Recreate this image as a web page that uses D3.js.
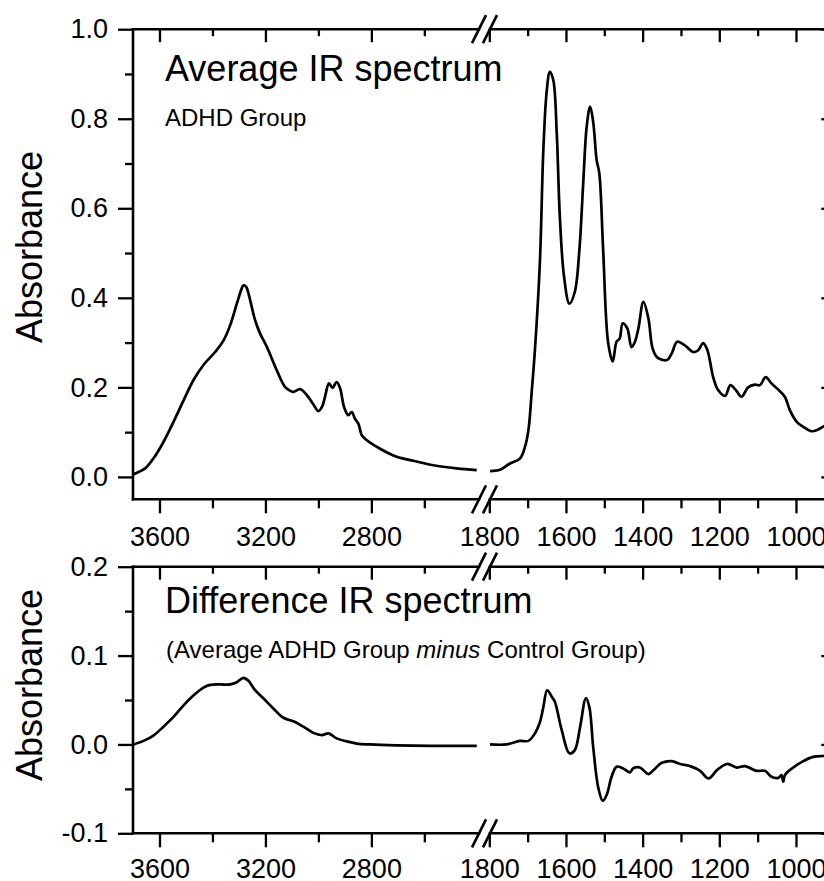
<!doctype html>
<html>
<head>
<meta charset="utf-8">
<script src="https://d3js.org/d3.v7.min.js"></script>
<style>
  body { margin: 0; background: #fff; }
  text { font-family: "Liberation Sans", Arial, sans-serif; fill: #000; }
</style>
</head>
<body>
<div id="viz"></div>
<script>
// wavenumber (cm-1), absorbance
var avgHigh = [[3698,0.006],[3675,0.012],[3654,0.019],[3623,0.041],[3585,0.078],[3547,0.123],[3509,0.171],[3472,0.216],[3434,0.250],[3390,0.279],[3358,0.305],[3333,0.339],[3308,0.387],[3290,0.420],[3283,0.428],[3272,0.424],[3264,0.410],[3239,0.350],[3220,0.320],[3195,0.291],[3157,0.238],[3126,0.201],[3105,0.192],[3094,0.190],[3069,0.196],[3044,0.183],[3020,0.163],[3000,0.147],[2985,0.158],[2975,0.179],[2960,0.209],[2947,0.199],[2931,0.212],[2918,0.198],[2903,0.156],[2887,0.138],[2874,0.145],[2862,0.130],[2849,0.119],[2836,0.093],[2817,0.082],[2767,0.063],[2704,0.045],[2641,0.036],[2566,0.026],[2478,0.019],[2402,0.015]];
var avgLow = [[1798,0.013],[1772,0.016],[1746,0.030],[1720,0.041],[1707,0.067],[1698,0.104],[1689,0.194],[1681,0.283],[1668,0.480],[1659,0.730],[1650,0.864],[1642,0.905],[1633,0.886],[1624,0.767],[1616,0.581],[1605,0.447],[1591,0.387],[1577,0.413],[1565,0.507],[1555,0.656],[1546,0.782],[1537,0.827],[1529,0.793],[1520,0.708],[1513,0.678],[1503,0.507],[1490,0.300],[1478,0.258],[1468,0.302],[1460,0.309],[1452,0.343],[1440,0.332],[1429,0.290],[1420,0.302],[1411,0.332],[1398,0.391],[1385,0.354],[1374,0.287],[1362,0.267],[1337,0.261],[1324,0.276],[1310,0.302],[1290,0.294],[1268,0.279],[1255,0.283],[1242,0.299],[1231,0.283],[1216,0.223],[1203,0.194],[1185,0.181],[1171,0.205],[1157,0.194],[1142,0.179],[1125,0.200],[1107,0.206],[1094,0.205],[1079,0.223],[1064,0.209],[1046,0.195],[1029,0.179],[1016,0.149],[998,0.123],[981,0.112],[959,0.102],[942,0.106],[927,0.113],[900,0.118]];
var diffHigh = [[3698,0.000],[3660,0.004],[3623,0.010],[3585,0.020],[3547,0.031],[3509,0.044],[3472,0.055],[3434,0.064],[3409,0.067],[3371,0.0675],[3333,0.0675],[3308,0.070],[3283,0.075],[3264,0.0716],[3239,0.061],[3208,0.052],[3170,0.0405],[3132,0.030],[3094,0.026],[3057,0.020],[3019,0.013],[2987,0.0105],[2962,0.0124],[2931,0.0068],[2893,0.0034],[2855,0.001],[2805,0.000],[2704,-0.001],[2578,-0.0016],[2402,-0.0016]];
var diffLow = [[1798,0.000],[1755,0.000],[1720,0.004],[1698,0.004],[1681,0.0124],[1668,0.025],[1659,0.042],[1649,0.061],[1637,0.0536],[1629,0.048],[1611,0.016],[1591,-0.010],[1577,-0.0064],[1563,0.020],[1548,0.052],[1539,0.042],[1529,-0.0027],[1516,-0.048],[1504,-0.0634],[1494,-0.057],[1481,-0.0364],[1468,-0.025],[1451,-0.027],[1433,-0.0315],[1425,-0.027],[1407,-0.026],[1385,-0.0334],[1372,-0.029],[1350,-0.0207],[1324,-0.0188],[1302,-0.022],[1276,-0.0244],[1250,-0.0297],[1228,-0.0383],[1206,-0.0289],[1180,-0.022],[1154,-0.026],[1133,-0.0244],[1103,-0.0297],[1081,-0.0297],[1064,-0.0364],[1046,-0.0376],[1038,-0.0345],[1033,-0.042],[1029,-0.0345],[1007,-0.026],[981,-0.0188],[955,-0.014],[929,-0.013],[900,-0.013]];

var xHighMajor = [3600, 3200, 2800];
var xHighMinor = [3400, 3000, 2600];
var xLowMajor = [1800, 1600, 1400, 1200, 1000];
var xLowMinor = [1700, 1500, 1300, 1100];
var avgTicks = [0, 0.2, 0.4, 0.6, 0.8, 1.0];
var avgMinor = [0.1, 0.3, 0.5, 0.7, 0.9];
var diffTicks = [-0.1, 0, 0.1, 0.2];
var diffMinor = [-0.05, 0.05, 0.15];

var width = 824, height = 881;
var left = 133, right = 834.3, breakL = 479, breakR = 490;

var svg = d3.select("#viz").append("svg")
    .attr("width", width)
    .attr("height", height);

var xHigh = d3.scaleLinear().domain([3700, 2400]).range([left, 477.3]);
var xLow = d3.scaleLinear().domain([1800, 900]).range([489.3, right]);

var fmt = function(d) { return d.toFixed(1); };

function drawPanel(cfg) {
  var y = cfg.y;
  var top = y.range()[1], bottom = y.range()[0];
  var g = svg.append("g");

  // bottom x ticks (outward), top ticks (inward)
  [[xHigh, xHighMajor, xHighMinor], [xLow, xLowMajor, xLowMinor]].forEach(function(s) {
    var ax = g.append("g").attr("transform", "translate(0," + bottom + ")")
      .call(d3.axisBottom(s[0]).tickValues(s[1]).tickSize(14).tickPadding(cfg.xPad).tickFormat(function(d) { return d; }));
    ax.select(".domain").remove();
    ax.selectAll("text").style("font-size", "27px");
    var mn = g.append("g").attr("transform", "translate(0," + bottom + ")")
      .call(d3.axisBottom(s[0]).tickValues(s[2]).tickSize(9).tickFormat(""));
    mn.select(".domain").remove();
    var t1 = g.append("g").attr("transform", "translate(0," + top + ")")
      .call(d3.axisBottom(s[0]).tickValues(s[1]).tickSize(13).tickFormat(""));
    t1.select(".domain").remove();
    var t2 = g.append("g").attr("transform", "translate(0," + top + ")")
      .call(d3.axisBottom(s[0]).tickValues(s[2]).tickSize(7).tickFormat(""));
    t2.select(".domain").remove();
  });

  // left y axis
  var ya = g.append("g").attr("transform", "translate(" + left + ",0)")
    .call(d3.axisLeft(y).tickValues(cfg.ticks).tickSize(15).tickPadding(10).tickFormat(fmt));
  ya.select(".domain").remove();
  ya.selectAll("text").style("font-size", "27px");
  var ym = g.append("g").attr("transform", "translate(" + left + ",0)")
    .call(d3.axisLeft(y).tickValues(cfg.minor).tickSize(8).tickFormat(""));
  ym.select(".domain").remove();
  // right y axis (inward)
  var yr = g.append("g").attr("transform", "translate(" + right + ",0)")
    .call(d3.axisLeft(y).tickValues(cfg.ticks).tickSize(13).tickFormat(""));
  yr.select(".domain").remove();
  var yr2 = g.append("g").attr("transform", "translate(" + right + ",0)")
    .call(d3.axisLeft(y).tickValues(cfg.minor).tickSize(7).tickFormat(""));
  yr2.select(".domain").remove();

  g.selectAll(".tick line").attr("stroke", "#000").attr("stroke-width", 2.3);

  // frame with the axis break
  var frame = [
    [left, top, left, bottom], [right, top, right, bottom],
    [left, top, breakL, top], [breakR, top, right, top],
    [left, bottom, breakL, bottom], [breakR, bottom, right, bottom]
  ];
  g.selectAll("line.frame").data(frame).enter().append("line")
    .attr("class", "frame")
    .attr("x1", function(d) { return d[0]; }).attr("y1", function(d) { return d[1]; })
    .attr("x2", function(d) { return d[2]; }).attr("y2", function(d) { return d[3]; })
    .attr("stroke", "#000").attr("stroke-width", 2.6).attr("stroke-linecap", "square");

  // break marks //
  [top, bottom].forEach(function(yy) {
    [breakL, breakR].forEach(function(xx) {
      g.append("line")
        .attr("x1", xx - 7).attr("y1", yy + 14)
        .attr("x2", xx + 7).attr("y2", yy - 14)
        .attr("stroke", "#000").attr("stroke-width", 2.6);
    });
  });

  var lineHigh = d3.line().x(function(d) { return xHigh(d[0]); }).y(function(d) { return y(d[1]); })
    .curve(d3.curveCatmullRom.alpha(0.5));
  var lineLow = d3.line().x(function(d) { return xLow(d[0]); }).y(function(d) { return y(d[1]); })
    .curve(d3.curveCatmullRom.alpha(0.5));

  g.append("path").datum(cfg.high).attr("d", lineHigh)
    .attr("fill", "none").attr("stroke", "#000").attr("stroke-width", 2.7).attr("stroke-linejoin", "round");
  g.append("path").datum(cfg.low).attr("d", lineLow)
    .attr("fill", "none").attr("stroke", "#000").attr("stroke-width", 2.7).attr("stroke-linejoin", "round");

  // y label
  g.append("text")
    .attr("transform", "translate(41.5," + cfg.labelY + ") rotate(-90)")
    .attr("text-anchor", "middle")
    .style("font-size", "36px")
    .text("Absorbance");

  g.append("text").attr("x", 165).attr("y", cfg.titleY)
    .style("font-size", "36px").text(cfg.title);

  return g;
}

var yAvg = d3.scaleLinear().domain([-0.05, 1.0]).range([499.3, 29.2]);
var yDiff = d3.scaleLinear().domain([-0.1, 0.2]).range([833.3, 566.7]);

drawPanel({ y: yAvg, ticks: avgTicks, minor: avgMinor, high: avgHigh, low: avgLow,
  xPad: 14, labelY: 247, title: "Average IR spectrum", titleY: 81 });
drawPanel({ y: yDiff, ticks: diffTicks, minor: diffMinor, high: diffHigh, low: diffLow,
  xPad: 12, labelY: 685, title: "Difference IR spectrum", titleY: 613 });

svg.append("text").attr("x", 165).attr("y", 126)
  .style("font-size", "24px").text("ADHD Group");

var sub = svg.append("text").attr("x", 166).attr("y", 658).style("font-size", "24px");
sub.append("tspan").text("(Average ADHD Group ");
sub.append("tspan").style("font-style", "italic").text("minus");
sub.append("tspan").text(" Control Group)");
</script>
</body>
</html>
